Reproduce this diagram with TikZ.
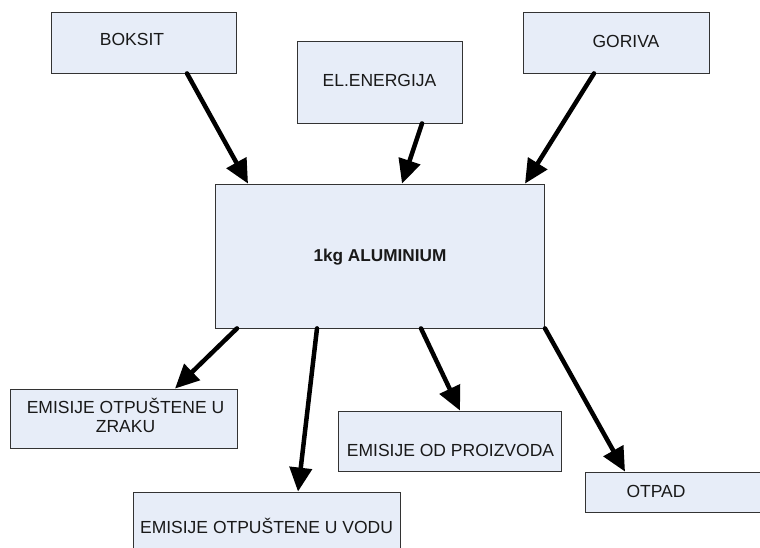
\documentclass[tikz,border=0pt]{standalone}
\usepackage{fontspec}
\setmainfont{Liberation Sans}
\usetikzlibrary{arrows.meta}
\definecolor{boxfill}{HTML}{E7EDF8}
\definecolor{boxline}{HTML}{333333}
\begin{document}
\begin{tikzpicture}[x=1pt,y=-1pt,
  box/.style={draw=boxline, line width=0.8pt, fill=boxfill, rectangle, inner sep=0pt},
  txt/.style={anchor=base, inner sep=0pt, text=black!90, font=\fontsize{17.5}{19}\selectfont},
  btxt/.style={txt, font=\fontsize{17.2}{19}\selectfont\bfseries},
  arr/.style={line width=4.5pt, line cap=round, -{Triangle[length=24pt,width=22pt]}}]
\path[use as bounding box, clip] (0,0) rectangle (760,547);
\fill[white] (0,0) rectangle (760,547);
% boxes
\node[box, minimum width=185pt, minimum height=61pt] (boksit) at (143.5,42.5) {};
\node[box, minimum width=165pt, minimum height=82pt] (energ) at (379.5,82) {};
\node[box, minimum width=186pt, minimum height=61pt] (goriva) at (616,42.5) {};
\node[box, minimum width=329pt, minimum height=144pt] (alu) at (379.5,256) {};
\node[box, minimum width=227pt, minimum height=59pt] (zraku) at (123.5,418.5) {};
\node[box, minimum width=267pt, minimum height=68pt] (vodu) at (266.5,526) {};
\node[box, minimum width=223pt, minimum height=60pt] (proiz) at (449.5,441) {};
\node[box, minimum width=180pt, minimum height=40pt] (otpad) at (675,492) {};
% texts
\node[txt] (tboksit) at (132,45) {BOKSIT};
\node[txt] (tenerg) at (379.5,86) {EL.ENERGIJA};
\node[txt] (tgoriva) at (626,47) {GORIVA};
\node[btxt] (talu) at (380,261) {1kg ALUMINIUM};
\node[txt] (tzraku1) at (125.5,413) {EMISIJE OTPUŠTENE U};
\node[txt] (tzraku2) at (125.5,432) {ZRAKU};
\node[txt] (tvodu) at (266.5,533) {EMISIJE OTPUŠTENE U VODU};
\node[txt] (tproiz) at (450.5,456) {EMISIJE OD PROIZVODA};
\node[txt] (totpad) at (656,497) {OTPAD};
% arrows in
\draw[arr] ([xshift=43.5pt]boksit.south) -- ([xshift=-131.5pt]alu.north);
\draw[arr] ([xshift=42.5pt]energ.south) -- ([xshift=22.5pt]alu.north);
\draw[arr] ([xshift=-22pt]goriva.south) -- ([xshift=145.5pt]alu.north);
% arrows out
\draw[arr] ([xshift=-142.5pt]alu.south) -- ([xshift=51.5pt]zraku.north);
\draw[arr] ([xshift=-62.5pt]alu.south) -- ([xshift=31.5pt]vodu.north);
\draw[arr] ([xshift=41.5pt]alu.south) -- ([xshift=10.5pt]proiz.north);
\draw[arr] ([xshift=165.5pt]alu.south) -- ([xshift=-50pt]otpad.north);
\end{tikzpicture}
\end{document}
